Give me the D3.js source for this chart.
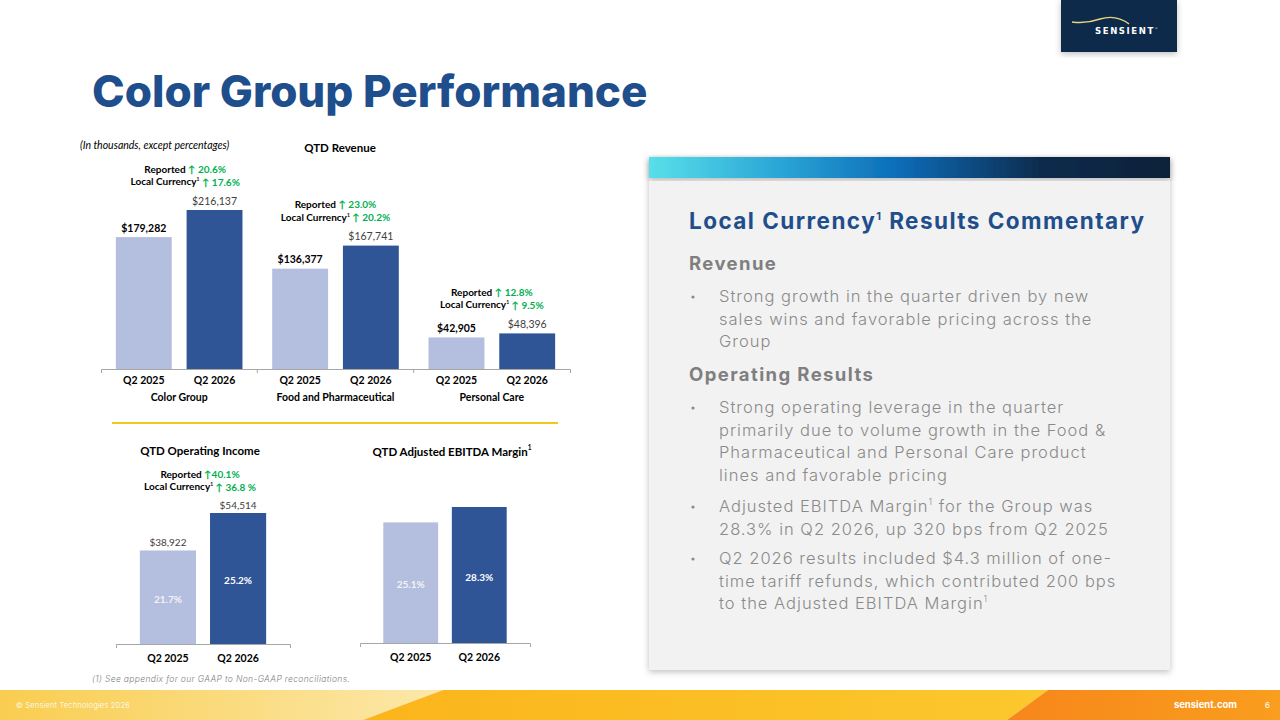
<!DOCTYPE html>
<html>
<head>
<meta charset="utf-8">
<script src="https://cdn.jsdelivr.net/npm/d3@7"></script>
<style>
  body { margin: 0; background: #fff; }
  svg { display: block; }
</style>
</head>
<body>
<svg id="slide" width="1280" height="720"></svg>
<script>
// chart values
const revGroups = ['Color Group', 'Food and Pharmaceutical', 'Personal Care'];
const periods = ['Q2 2025', 'Q2 2026'];
const rev2025 = [179282, 136377, 42905];
const rev2026 = [216137, 167741, 48396];
const revReported = ['20.6%', '23.0%', '12.8%'];
const revLocal = ['17.6%', '20.2%', '9.5%'];

const opIncome = [38922, 54514];
const opMargin = ['21.7%', '25.2%'];
const opReported = '40.1%';
const opLocal = '36.8 %';

const ebitdaMargin = [25.1, 28.3];

const revenueLines = [
    'Strong growth in the quarter driven by new',
    'sales wins and favorable pricing across the',
    'Group'
];
const opBullets = [
    ['Strong operating leverage in the quarter',
     'primarily due to volume growth in the Food &',
     'Pharmaceutical and Personal Care product',
     'lines and favorable pricing'],
    ['Adjusted EBITDA Margin¹ for the Group was',
     '28.3% in Q2 2026, up 320 bps from Q2 2025'],
    ['Q2 2026 results included $4.3 million of one-',
     'time tariff refunds, which contributed 200 bps',
     'to the Adjusted EBITDA Margin¹']
];

const light = '#b4bfdf', dark = '#2f5597', green = '#00b050';
const calibri = 'Lato, "Liberation Sans", sans-serif';
const poppins = 'Inter, "Open Sans", sans-serif';

const svg = d3.select('#slide');
const defs = svg.append('defs');

let sh = defs.append('filter').attr('id', 'shadow').attr('x', '-5%').attr('y', '-5%').attr('width', '110%').attr('height', '115%');
sh.append('feDropShadow').attr('dx', 0).attr('dy', 2).attr('stdDeviation', 3).attr('flood-color', '#000').attr('flood-opacity', 0.25);

let strip = defs.append('linearGradient').attr('id', 'strip');
[[0, '#58dfea'], [0.25, '#2aa6d6'], [0.48, '#0b6cb8'], [0.75, '#0e2c4e'], [1, '#0f2039']].forEach(s => {
    strip.append('stop').attr('offset', s[0]).attr('stop-color', s[1]);
});
let f1 = defs.append('linearGradient').attr('id', 'foot1');
f1.append('stop').attr('offset', 0).attr('stop-color', '#f9cd50');
f1.append('stop').attr('offset', 1).attr('stop-color', '#fce8aa');
let f2 = defs.append('linearGradient').attr('id', 'foot2');
f2.append('stop').attr('offset', 0).attr('stop-color', '#fbb51b');
f2.append('stop').attr('offset', 1).attr('stop-color', '#fbc82e');
let f3 = defs.append('linearGradient').attr('id', 'foot3');
f3.append('stop').attr('offset', 0).attr('stop-color', '#f7861a');
f3.append('stop').attr('offset', 1).attr('stop-color', '#f99e1e');

// logo
svg.append('rect').attr('x', 1061).attr('y', 0).attr('width', 116).attr('height', 52)
    .attr('fill', '#0c2a4c').attr('filter', 'url(#shadow)');
svg.append('path').attr('d', 'M1072,22 Q1086,24 1100,19 Q1116,14 1129,24')
    .attr('fill', 'none').attr('stroke', '#e8d57c').attr('stroke-width', 1.4);
let logo = svg.append('text').attr('x', 1095).attr('y', 34)
    .attr('font-family', '"DejaVu Sans", sans-serif').attr('font-weight', 700).attr('font-size', 8.5)
    .attr('letter-spacing', 1.6).attr('fill', '#fff');
logo.append('tspan').text('SENSIENT');
logo.append('tspan').attr('font-size', 3).attr('dy', -4).attr('letter-spacing', 0).text('™');

// title
svg.append('text').attr('x', 92).attr('y', 107).text('Color Group Performance')
    .attr('font-family', poppins).attr('font-weight', 800).attr('font-size', 44).attr('fill', '#1f4e8c');

// ---------- QTD revenue ----------
svg.append('text').attr('x', 80).attr('y', 149).text('(In thousands, except percentages)')
    .attr('font-family', calibri).attr('font-style', 'italic').attr('font-size', 10.5).attr('fill', '#000');
svg.append('text').attr('x', 340).attr('y', 152).attr('text-anchor', 'middle').text('QTD Revenue')
    .attr('font-family', calibri).attr('font-weight', 700).attr('font-size', 11.5).attr('fill', '#000');

const revBase = 369;
const xRev = d3.scaleBand().domain(revGroups).range([101, 570]);
const xRevIn = d3.scaleBand().domain(periods).range([0, xRev.bandwidth()]).padding(0.21);
const yRev = d3.scaleLinear().domain([0, 250000]).range([revBase, revBase - 250000 * 159 / 216137]);

const revRows = revGroups.map((g, i) => ({ g, vals: [rev2025[i], rev2026[i]], rep: revReported[i], loc: revLocal[i] }));

const revG = svg.append('g');
const grp = revG.selectAll('g.grp').data(revRows).enter().append('g').attr('class', 'grp')
    .attr('transform', d => `translate(${xRev(d.g)},0)`);

grp.selectAll('rect').data(d => d.vals.map((v, j) => ({ p: periods[j], v, j }))).enter().append('rect')
    .attr('x', d => xRevIn(d.p)).attr('width', xRevIn.bandwidth())
    .attr('y', d => yRev(d.v)).attr('height', d => revBase - yRev(d.v))
    .attr('fill', d => d.j ? dark : light);

grp.selectAll('text.val').data(d => d.vals.map((v, j) => ({ p: periods[j], v, j }))).enter().append('text')
    .attr('class', 'val')
    .attr('x', d => xRevIn(d.p) + xRevIn.bandwidth() / 2).attr('y', d => yRev(d.v) - 9).attr('dy', '0.35em')
    .attr('text-anchor', 'middle').text(d => '$' + d3.format(',')(d.v))
    .attr('font-family', calibri).attr('font-size', 10.5)
    .attr('font-weight', d => d.j ? 400 : 700).attr('fill', d => d.j ? '#404040' : '#000');

grp.selectAll('text.cat').data(periods).enter().append('text').attr('class', 'cat')
    .attr('x', p => xRevIn(p) + xRevIn.bandwidth() / 2).attr('y', 380).attr('dy', '0.35em')
    .attr('text-anchor', 'middle').text(p => p)
    .attr('font-family', calibri).attr('font-weight', 700).attr('font-size', 10.5);

grp.append('text').attr('x', xRev.bandwidth() / 2).attr('y', 397).attr('dy', '0.35em')
    .attr('text-anchor', 'middle').text(d => d.g)
    .attr('font-family', calibri).attr('font-weight', 700).attr('font-size', 10.5);

function growthNote(sel, cx, topY, rep, loc, gap) {
    let t1 = sel.append('text').attr('x', cx).attr('y', topY).attr('dy', '0.35em').attr('text-anchor', 'middle')
        .attr('font-family', calibri).attr('font-weight', 700).attr('font-size', 10);
    t1.append('tspan').text('Reported ');
    t1.append('tspan').attr('fill', green).text('↑' + gap + rep);
    let t2 = sel.append('text').attr('x', cx).attr('y', topY + 12.5).attr('dy', '0.35em').attr('text-anchor', 'middle')
        .attr('font-family', calibri).attr('font-weight', 700).attr('font-size', 10);
    t2.append('tspan').text('Local Currency');
    t2.append('tspan').attr('font-size', 5).attr('dy', '-0.8em').text('1');
    t2.append('tspan').attr('dy', '0.45em').text(' ');
    t2.append('tspan').attr('fill', green).text('↑ ' + loc);
}

grp.each(function (d) {
    let top = yRev(d3.max(d.vals));
    growthNote(d3.select(this), xRev.bandwidth() / 2 + (d.g === 'Color Group' ? 6 : 0), top - 41, d.rep, d.loc, ' ');
});

// axis
const revAxis = revG.append('g').attr('transform', `translate(0,${revBase})`)
    .call(d3.axisBottom(xRev).tickSize(0).tickSizeOuter(4).tickFormat(''));
revAxis.select('.domain').attr('stroke', '#a6a6a6');
revG.selectAll('line.sep').data(revGroups.slice(1)).enter().append('line').attr('class', 'sep')
    .attr('x1', g => xRev(g)).attr('x2', g => xRev(g)).attr('y1', revBase).attr('y2', revBase + 4)
    .attr('stroke', '#a6a6a6');

// yellow divider
svg.append('line').attr('x1', 112).attr('x2', 558).attr('y1', 423).attr('y2', 423)
    .attr('stroke', '#f5c518').attr('stroke-width', 2);

// ---------- bottom charts ----------
function smallChart(opts) {
    const g = svg.append('g');
    const x = d3.scaleBand().domain(periods).range(opts.range).paddingInner(0.2).paddingOuter(0.34);
    const y = d3.scaleLinear().domain(opts.domain).range([opts.base, opts.base - opts.pxPer * opts.domain[1]]);
    const rows = opts.vals.map((v, j) => ({ p: periods[j], v, j }));

    g.selectAll('rect').data(rows).enter().append('rect')
        .attr('x', d => x(d.p)).attr('width', x.bandwidth())
        .attr('y', d => y(d.v)).attr('height', d => opts.base - y(d.v))
        .attr('fill', d => d.j ? dark : light);

    g.selectAll('text.inner').data(rows).enter().append('text').attr('class', 'inner')
        .attr('x', d => x(d.p) + x.bandwidth() / 2).attr('y', d => (y(d.v) + opts.base) / 2 + 2).attr('dy', '0.35em')
        .attr('text-anchor', 'middle').text((d, i) => opts.inner[i])
        .attr('font-family', calibri).attr('font-weight', 700).attr('font-size', 10)
        .attr('fill', d => d.j ? '#fff' : '#f3f3f3');

    if (opts.showVals) {
        g.selectAll('text.val').data(rows).enter().append('text').attr('class', 'val')
            .attr('x', d => x(d.p) + x.bandwidth() / 2).attr('y', d => y(d.v) - 8).attr('dy', '0.35em')
            .attr('text-anchor', 'middle').text(d => '$' + d3.format(',')(d.v))
            .attr('font-family', calibri).attr('font-size', 10).attr('fill', '#404040');
    }

    g.selectAll('text.cat').data(periods).enter().append('text').attr('class', 'cat')
        .attr('x', p => x(p) + x.bandwidth() / 2).attr('y', opts.base + 14).attr('dy', '0.35em')
        .attr('text-anchor', 'middle').text(p => p)
        .attr('font-family', calibri).attr('font-weight', 700).attr('font-size', 10.5);

    const ax = g.append('g').attr('transform', `translate(0,${opts.base})`)
        .call(d3.axisBottom(x).tickSize(0).tickSizeOuter(4).tickFormat(''));
    ax.select('.domain').attr('stroke', '#a6a6a6');

    let t = g.append('text').attr('x', opts.titleX).attr('y', opts.titleY).attr('dy', '0.35em')
        .attr('text-anchor', 'middle').attr('font-family', calibri).attr('font-weight', 700).attr('font-size', 11.5);
    t.append('tspan').text(opts.title);
    if (opts.sup) {
        t.append('tspan').attr('font-size', 6.5).attr('dy', '-0.9em').text('1');
    }
    return { g, x, y };
}

const opChart = smallChart({
    range: [116, 290], base: 644, domain: [0, 60000], pxPer: 131 / 54514,
    vals: opIncome, inner: opMargin, showVals: true,
    title: 'QTD Operating Income', titleX: 200, titleY: 451
});
growthNote(opChart.g, 200, opChart.y(d3.max(opIncome)) - 39, opReported, opLocal, '');

smallChart({
    range: [360, 530], base: 643, domain: [0, 30], pxPer: 136 / 28.3,
    vals: ebitdaMargin, inner: ebitdaMargin.map(v => d3.format('.1f')(v) + '%'), showVals: false,
    title: 'QTD Adjusted EBITDA Margin', titleX: 452, titleY: 452, sup: true
});

svg.append('text').attr('x', 92).attr('y', 682).text('(1) See appendix for our GAAP to Non-GAAP reconciliations.')
    .attr('font-family', poppins).attr('font-style', 'italic').attr('font-weight', 300).attr('font-size', 8.5)
    .attr('letter-spacing', 0.35).attr('fill', '#7f7f7f');

// ---------- commentary panel ----------
svg.append('rect').attr('x', 649).attr('y', 157).attr('width', 521).attr('height', 513)
    .attr('fill', '#f2f2f2').attr('filter', 'url(#shadow)');
svg.append('rect').attr('x', 649).attr('y', 157).attr('width', 521).attr('height', 21)
    .attr('fill', 'url(#strip)').attr('filter', 'url(#shadow)');

let ht = svg.append('text').attr('x', 689).attr('y', 229)
    .attr('font-family', poppins).attr('font-weight', 700).attr('font-size', 22.5)
    .attr('letter-spacing', 1.45).attr('fill', '#1f4e8c');
ht.append('tspan').text('Local Currency');
ht.append('tspan').attr('font-size', 11).attr('dy', -9).text('1');
ht.append('tspan').attr('dy', 9).text(' Results Commentary');

function subHead(txt, y) {
    svg.append('text').attr('x', 689).attr('y', y).text(txt)
        .attr('font-family', poppins).attr('font-weight', 700).attr('font-size', 18.5)
        .attr('letter-spacing', 1.4).attr('fill', '#7f7f7f');
}
function bodyLine(txt, y) {
    let t = svg.append('text').attr('x', 719).attr('y', y)
        .attr('font-family', poppins).attr('font-weight', 300).attr('font-size', 16.5)
        .attr('letter-spacing', 1.0).attr('fill', '#8a8a8a');
    let parts = txt.split('¹');
    parts.forEach((p, i) => {
        t.append('tspan').attr('dy', i ? 7 : 0).text(p);
        if (i < parts.length - 1) t.append('tspan').attr('font-size', 9).attr('dy', -7).text('1');
    });
}
function bullet(y) {
    svg.append('circle').attr('cx', 693).attr('cy', y - 5).attr('r', 1.6).attr('fill', '#8a8a8a');
}

subHead('Revenue', 270);
bullet(302);
revenueLines.forEach((l, i) => bodyLine(l, 302 + i * 22.7));
subHead('Operating Results', 381);
const bulletStarts = [413, 512, 564];
opBullets.forEach((b, k) => {
    bullet(bulletStarts[k]);
    b.forEach((l, i) => bodyLine(l, bulletStarts[k] + i * 22.7));
});

// ---------- footer ----------
svg.append('polygon').attr('points', '0,690 443,690 363,720 0,720').attr('fill', 'url(#foot1)');
svg.append('polygon').attr('points', '443,690 1048,690 1007,720 363,720').attr('fill', 'url(#foot2)');
svg.append('polygon').attr('points', '1048,690 1280,690 1280,720 1007,720').attr('fill', 'url(#foot3)');
svg.append('text').attr('x', 16).attr('y', 708).text('© Sensient Technologies 2026')
    .attr('font-family', poppins).attr('font-weight', 300).attr('font-size', 7.5).attr('letter-spacing', 0.2).attr('fill', '#fff');
svg.append('text').attr('x', 1237).attr('y', 708).attr('text-anchor', 'end').text('sensient.com')
    .attr('font-family', poppins).attr('font-weight', 700).attr('font-size', 9.5).attr('fill', '#fff');
svg.append('text').attr('x', 1265).attr('y', 708).text('6')
    .attr('font-family', poppins).attr('font-size', 8).attr('fill', '#fff');
</script>
</body>
</html>
